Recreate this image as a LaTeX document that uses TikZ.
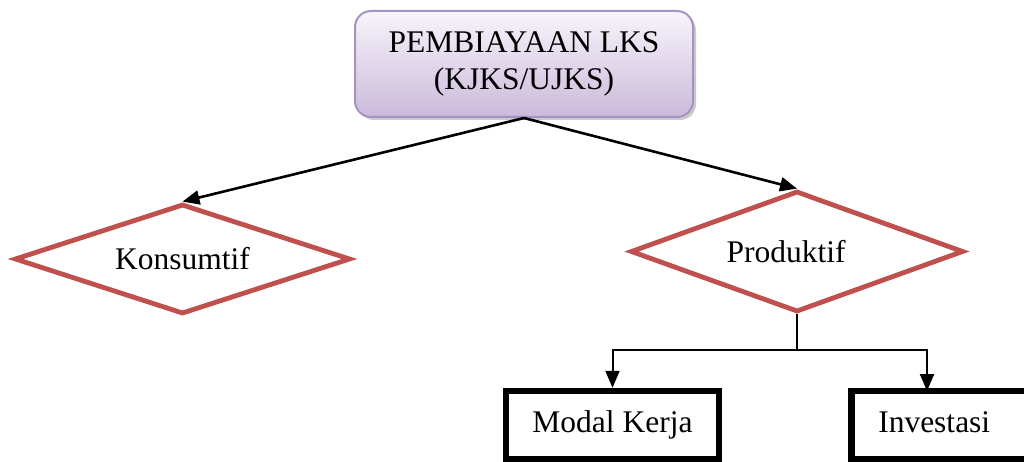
\documentclass[tikz,border=0pt]{standalone}
\usepackage{fontspec}
\setmainfont{Liberation Serif}
\usetikzlibrary{shapes.geometric,arrows.meta,shadows}
\definecolor{decred}{HTML}{C0504D}
\definecolor{headtop}{HTML}{F7F4FA}
\definecolor{headbot}{HTML}{CBBADB}
\definecolor{headline}{HTML}{A593C2}
\begin{document}
\begin{tikzpicture}[x=1pt,y=-1pt,
  every node/.style={font=\fontsize{31.5}{37}\selectfont},
  headbox/.style={draw=headline, line width=2pt, rounded corners=16pt,
    top color=headtop, bottom color=headbot, align=center,
    minimum width=338pt, minimum height=106pt,
    drop shadow={shadow xshift=3pt, shadow yshift=-3pt, opacity=0.35, fill=black!60}},
  choice/.style={diamond, aspect=3, draw=decred, fill=white, line width=4.8pt, inner sep=0pt},
  leaf/.style={draw=black, line width=6.5pt, inner sep=0pt, text height=22pt, text depth=7pt},
  tip/.style={-{Triangle[length=17pt,width=14pt]}},
  link/.style={line width=2.6pt, tip},
  plain/.style={line width=2pt}]
\path[use as bounding box, clip] (0,0) rectangle (1024,462);

% root of the scheme
\node[headbox] (root) at (524,64) {PEMBIAYAAN LKS\\(KJKS/UJKS)};

% the two kinds of financing
\node[choice, minimum width=336pt, minimum height=110pt] (kons) at (182.5,259) {Konsumtif};
\node[choice, minimum width=333pt, minimum height=121pt] (prod) at (797,251.5) {Produktif\hspace*{22pt}};

% productive financing splits in two
\node[leaf, minimum width=213pt, minimum height=68pt] (modal) at (612.5,425) {Modal Kerja};
\node[leaf, anchor=west, text width=137pt, align=left, inner xsep=27pt,
      minimum height=68pt] (inv) at (848,425) {Investasi};

\coordinate (split) at (797,350);
\coordinate (invtop) at (927,391);

\draw[link] (root.south) -- (kons.north);
\draw[link] (root.south) -- (prod.north);
\draw[plain] (prod.south) -- (split);
\draw[plain, tip] (split) -| (modal.north);
\draw[plain, tip] (split) -| (invtop);
\end{tikzpicture}
\end{document}
